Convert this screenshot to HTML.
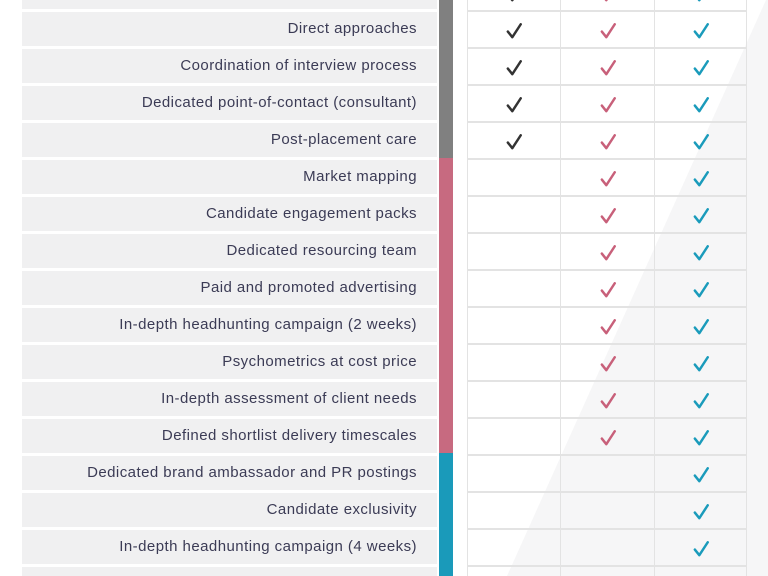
<!DOCTYPE html>
<html style="overflow:hidden;height:576px"><head><style>
body{margin:0;width:768px;height:576px;overflow:hidden;background:#fff;position:relative;font-family:"Liberation Sans",sans-serif}
.lab{position:absolute;left:22px;width:415px;height:34px;background:#f0f0f1;color:#3b3b55;font-size:15px;text-align:right;box-sizing:border-box;padding-right:20px;line-height:34px;letter-spacing:0.45px;white-space:nowrap}
.bar{position:absolute;left:439px;width:14px}
.cell{position:absolute;height:37px;border:1px solid #e3e3e3;box-sizing:border-box}
svg.ck{position:absolute;width:18px;height:18px}
</style></head><body>
<svg style="position:absolute;left:0;top:0" width="768" height="576"><polygon points="766,0 768,0 768,576 507,576" fill="#f6f6f7"/></svg>
<div class="bar" style="top:0;height:158px;background:#808080"></div>
<div class="bar" style="top:158px;height:295px;background:#c76a80"></div>
<div class="bar" style="top:453px;height:123px;background:#1a9aba"></div>
<div id="c"></div>
<script>
var rows=[["",3],["Direct approaches",3],["Coordination of interview process",3],["Dedicated point-of-contact (consultant)",3],["Post-placement care",3],["Market mapping",2],["Candidate engagement packs",2],["Dedicated resourcing team",2],["Paid and promoted advertising",2],["In-depth headhunting campaign (2 weeks)",2],["Psychometrics at cost price",2],["In-depth assessment of client needs",2],["Defined shortlist delivery timescales",2],["Dedicated brand ambassador and PR postings",1],["Candidate exclusivity",1],["In-depth headhunting campaign (4 weeks)",1],["",1]];
var cols=[[467,94,"#333"],[560,95,"#c8607a"],[654,93,"#1a9bbb"]];
var h="";
rows.forEach(function(r,i){var t=-26+37*i;
if(t>576)return;
h+='<div class="lab" style="top:'+(t+1)+'px">'+r[0]+'</div>';
cols.forEach(function(c,j){h+='<div class="cell" style="left:'+c[0]+'px;top:'+t+'px;width:'+c[1]+'px"></div>';
if(j>=3-r[1]){h+='<svg class="ck" viewBox="0 0 16 16" style="left:'+(c[0]+c[1]/2-9)+'px;top:'+(t+11)+'px"><polyline points="2.5,8.5 6.5,13.5 14,2" fill="none" stroke="'+c[2]+'" stroke-width="2.2" stroke-linecap="round" stroke-linejoin="round"/></svg>';}});});
document.getElementById("c").innerHTML=h;
</script>
</body></html>
